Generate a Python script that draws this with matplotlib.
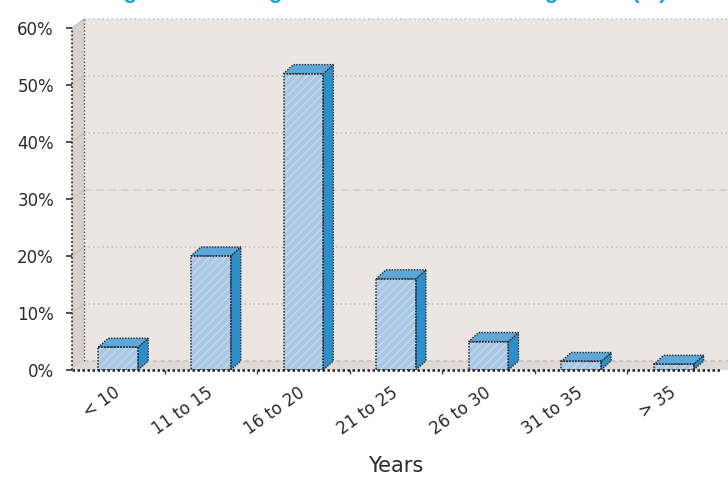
import matplotlib
matplotlib.use("Agg")
import matplotlib.pyplot as plt
from matplotlib.patches import Polygon
from matplotlib.ticker import FixedLocator

# ---- data -------------------------------------------------------------
categories = ["< 10", "11 to 15", "16 to 20", "21 to 25", "26 to 30", "31 to 35", "> 35"]
shares = [4, 20, 52, 16, 5, 1.5, 1]          # percent of respondents
y_ticks = [0, 10, 20, 30, 40, 50, 60]
y_tick_labels = [f"{v}%" for v in y_ticks]
title = "Length of teaching at the current state college level (%)"
x_label = "Years"

# ---- style ------------------------------------------------------------
WALL = "#ebe6e2"
SIDE_WALL = "#d7d0cc"
FLOOR = "#e0dad6"
FRONT = "#a9c8e6"
SIDE = "#2b8fcb"
TOP = "#5da8d9"
EDGE = "#2a2a2a"
TEXT = "#2b2b2b"

W, H, DPI = 728, 482, 100
fig = plt.figure(figsize=(W / DPI, H / DPI), dpi=DPI)
fig.patch.set_facecolor("white")

# axes box in pixels: x 72..720, y 28..370 (from top)
ax = fig.add_axes([72 / W, (H - 370) / H, 648 / W, 342 / H])
ax.set_xlim(-0.5, len(categories) - 0.5)
ax.set_ylim(0, 60)
ax.set_facecolor("none")
for s in ax.spines.values():
    s.set_visible(False)

# depth of the pseudo-3D box (wall) and of each bar, in data units
px_x = 648 / len(categories)          # pixels per category
px_y = 342 / 60                       # pixels per percent
wall_dx, wall_dy = 12 / px_x, 9 / px_y
bar_dx, bar_dy = 10 / px_x, 9 / px_y
x0 = -0.5
x_far = len(categories) + 0.5

# back wall
ax.add_patch(Polygon([(x0 + wall_dx, wall_dy), (x_far, wall_dy), (x_far, 60 + wall_dy),
                      (x0 + wall_dx, 60 + wall_dy)], closed=True, facecolor=WALL,
                     edgecolor="none", clip_on=False, zorder=0))
# left side wall
ax.add_patch(Polygon([(x0, 0), (x0 + wall_dx, wall_dy), (x0 + wall_dx, 60 + wall_dy), (x0, 60)],
                     closed=True, facecolor=SIDE_WALL, edgecolor="none", clip_on=False, zorder=0))
# floor
ax.add_patch(Polygon([(x0, 0), (x_far, 0), (x_far, wall_dy), (x0 + wall_dx, wall_dy)],
                     closed=True, facecolor=FLOOR, edgecolor="none", clip_on=False, zorder=0))

# gridlines on the back wall and their connectors on the side wall
for v in y_ticks[1:]:
    if v == 30:
        style, col = (0, (5, 3)), "#d2cbc6"
    else:
        style, col = (0, (1, 2)), "#c4bcb7"
    ax.plot([x0 + wall_dx, x_far], [v + wall_dy, v + wall_dy], ls=style, color=col,
            lw=1.1, clip_on=False, zorder=1)
    ax.plot([x0, x0 + wall_dx], [v, v + wall_dy], color="#c9c1bc", lw=0.9,
            clip_on=False, zorder=1)
# floor back edge
ax.plot([x0 + wall_dx, x_far], [wall_dy, wall_dy], ls=(0, (3, 2)), color="#c6beb9",
        lw=1.1, clip_on=False, zorder=1)
# wall corner edge and y axis
ax.plot([x0 + wall_dx, x0 + wall_dx], [wall_dy, 60 + wall_dy], ls=(0, (1, 1.5)),
        color="#555555", lw=1.0, clip_on=False, zorder=2)
ax.plot([x0, x0], [0, 60], ls=(0, (1, 1.2)), color="#333333", lw=1.3,
        clip_on=False, zorder=2)

# ---- bars -------------------------------------------------------------
xs = list(range(len(categories)))
bw = 0.43
ax.bar(xs, shares, width=bw, color=FRONT, edgecolor="#c3d9ee", hatch="////",
       linewidth=0, zorder=3)
ax.bar(xs, shares, width=bw, facecolor="none", edgecolor=EDGE, linewidth=1.1,
       linestyle=(0, (1, 1)), zorder=5)
for x, v in zip(xs, shares):
    l, r = x - bw / 2, x + bw / 2
    side = Polygon([(r, 0), (r + bar_dx, bar_dy), (r + bar_dx, v + bar_dy), (r, v)],
                   closed=True, facecolor=SIDE, edgecolor=EDGE, lw=1.0,
                   linestyle=(0, (1, 1)), zorder=4)
    top = Polygon([(l, v), (r, v), (r + bar_dx, v + bar_dy), (l + bar_dx, v + bar_dy)],
                  closed=True, facecolor=TOP, edgecolor=EDGE, lw=1.0,
                  linestyle=(0, (1, 1)), zorder=4)
    ax.add_patch(side)
    ax.add_patch(top)

# x axis line
ax.plot([x0, len(categories) - 0.5], [0, 0], ls=(0, (1, 1)), color="#222222", lw=1.8,
        clip_on=False, zorder=6)

# ---- ticks and labels ---------------------------------------------------
ax.set_yticks(y_ticks)
ax.set_yticklabels(y_tick_labels, fontsize=12, color=TEXT)
ax.tick_params(axis="y", length=4, width=1.2, color="#333333", pad=9)

ax.set_xticks(xs)
ax.set_xticklabels(categories, fontsize=12, color=TEXT, rotation=35,
                   ha="right", va="center", rotation_mode="anchor")
ax.tick_params(axis="x", which="major", length=0, pad=15)
ax.xaxis.set_minor_locator(FixedLocator([i + 0.5 for i in range(len(categories) - 1)]))
ax.tick_params(axis="x", which="minor", length=3, width=1.0, color="#444444")

ax.set_xlabel(x_label, fontsize=15, color=TEXT, labelpad=13)

# title (sits at the very top edge of the canvas)
fig.text(667 / W, 1 - 3 / H, title, ha="right", va="bottom", color="#17a0e6",
         fontsize=16, fontweight="bold", family="Liberation Sans")

fig.savefig("out.png", dpi=DPI)
